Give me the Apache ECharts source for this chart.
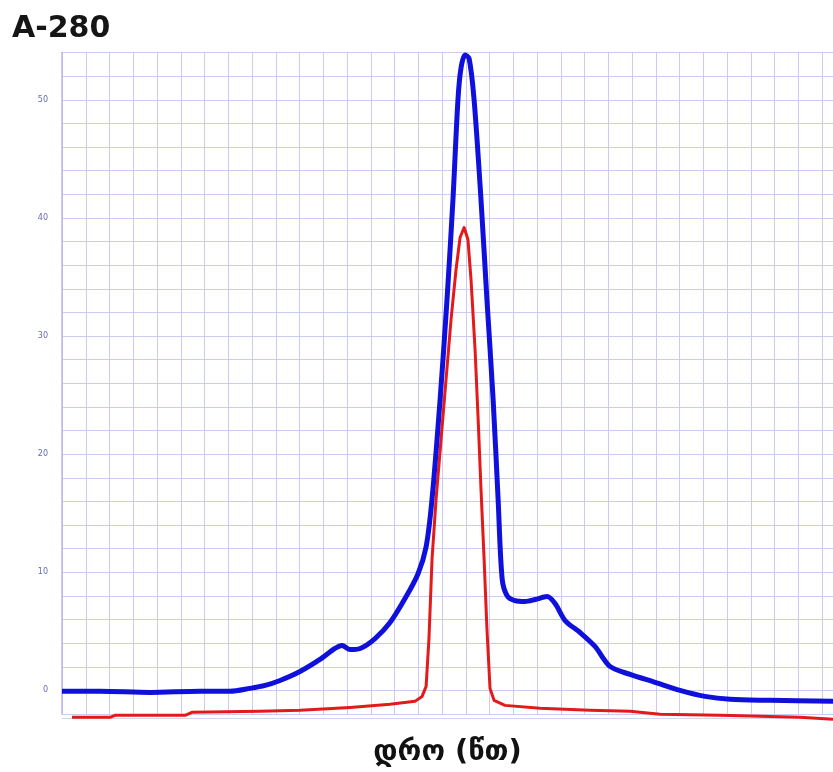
<!DOCTYPE html>
<html>
<head>
<meta charset="utf-8">
<script src="https://cdn.jsdelivr.net/npm/echarts@6/dist/echarts.min.js"></script>
<style>
html,body{margin:0;padding:0;background:#fff;}
#chart{width:833px;height:772px;}
</style>
</head>
<body>
<div id="chart"></div>
<script>
// Title and axis name
var chartTitle = 'A-280';
var xAxisName = 'დრო (წთ)';

// Y tick labels shown (every 10 units)
var yTickLabels = [0, 10, 20, 30, 40, 50];

// Blue trace: [time, value]
var blueTime = [0, 1.6, 3.71, 5.81, 7.07, 7.92, 8.55, 9.18, 10.02, 10.86, 11.49, 11.79, 12.13, 12.55, 13.18, 13.81, 14.44, 14.99, 15.33, 15.58, 15.92, 16.21, 16.46, 16.67, 16.8, 16.97, 17.14, 17.35, 17.64, 17.89, 18.15, 18.36, 18.53, 18.74, 19.07, 19.49, 19.92, 20.42, 20.76, 21.18, 21.81, 22.44, 23.07, 23.92, 24.97, 26.02, 27.07, 28.13, 29.81, 32.46];
var blueValue = [-0.08, -0.08, -0.17, -0.08, -0.08, 0.17, 0.42, 0.84, 1.6, 2.62, 3.55, 3.8, 3.46, 3.55, 4.39, 5.74, 7.77, 9.88, 12.16, 16.22, 24.66, 33.11, 41.55, 50.0, 52.7, 53.8, 53.5, 50.0, 41.55, 33.11, 24.66, 16.22, 9.46, 8.02, 7.6, 7.52, 7.69, 7.94, 7.35, 5.91, 4.9, 3.72, 2.03, 1.35, 0.68, 0.0, -0.51, -0.76, -0.84, -0.93];

// Red trace: [time, value]
var redTime = [0.42, 2.02, 2.23, 5.18, 5.47, 8.34, 10.02, 12.13, 13.81, 14.86, 15.16, 15.33, 15.45, 15.58, 15.75, 15.96, 16.17, 16.38, 16.59, 16.76, 16.93, 17.09, 17.22, 17.39, 17.52, 17.64, 17.77, 17.89, 18.02, 18.19, 18.65, 20.13, 22.23, 23.92, 25.18, 27.71, 31.07, 32.46];
var redValue = [-2.28, -2.28, -2.11, -2.11, -1.86, -1.77, -1.69, -1.44, -1.18, -0.93, -0.51, 0.34, 4.39, 11.15, 16.22, 21.28, 26.35, 31.42, 35.64, 38.34, 39.19, 38.18, 34.8, 28.89, 22.97, 17.06, 11.15, 5.24, 0.17, -0.84, -1.27, -1.52, -1.69, -1.77, -2.03, -2.11, -2.28, -2.45];

function zip(a, b) { return a.map(function (v, i) { return [v, b[i]]; }); }

var chart = echarts.init(document.getElementById('chart'));
chart.setOption({
  backgroundColor: '#ffffff',
  animation: false,
  title: {
    text: chartTitle,
    left: 7,
    top: 9,
    textStyle: { fontFamily: 'DejaVu Sans', fontWeight: 'bold', fontSize: 30, color: '#151515' }
  },
  grid: { left: 62, right: 0, top: 52.6, bottom: 56.2 },
  xAxis: {
    type: 'value',
    min: 0,
    max: 32.46,
    interval: 1,
    name: xAxisName,
    nameLocation: 'middle',
    nameGap: 20,
    nameTextStyle: { fontFamily: 'DejaVu Sans', fontWeight: 'bold', fontSize: 29, color: '#111' },
    offset: 4,
    axisLine: { show: true, onZero: false, lineStyle: { color: '#d4d4f0', width: 1 } },
    axisTick: { show: false },
    axisLabel: { show: false },
    splitLine: { show: true, lineStyle: { color: '#cbcbf2', width: 1 } }
  },
  yAxis: {
    type: 'value',
    min: -2,
    max: 54,
    interval: 2,
    axisLine: { show: true, lineStyle: { color: '#b8b8e4', width: 1.5 } },
    axisTick: { show: false },
    axisLabel: {
      margin: 14,
      fontSize: 8,
      fontFamily: 'DejaVu Sans',
      color: '#6a6aa8',
      formatter: function (v) {
        var r = Math.round(v);
        return (Math.abs(v - r) < 1e-6 && yTickLabels.indexOf(r) >= 0) ? String(r) : '';
      }
    },
    splitLine: { show: true, lineStyle: { color: '#cbcbf2', width: 1 } }
  },
  series: [
    {
      type: 'line',
      data: zip(redTime, redValue),
      showSymbol: false,
      smooth: false,
      clip: false,
      lineStyle: { color: '#e41a1a', width: 3, join: 'round' },
      z: 2
    },
    {
      type: 'line',
      data: zip(blueTime, blueValue),
      showSymbol: false,
      smooth: 0.3,
      clip: false,
      lineStyle: { color: '#1010dc', width: 5, join: 'round' },
      z: 3
    }
  ]
});
</script>
</body>
</html>
